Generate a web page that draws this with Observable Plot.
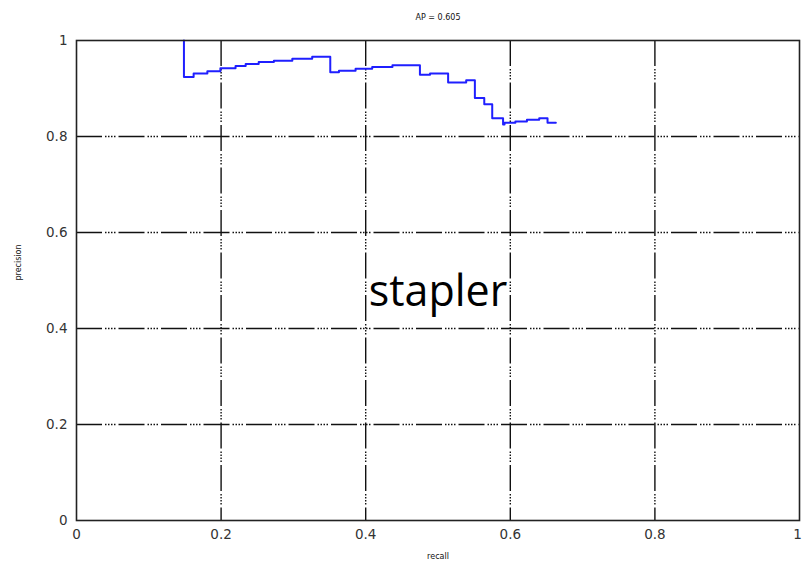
<!DOCTYPE html>
<html>
<head>
<meta charset="utf-8">
<script src="https://cdn.jsdelivr.net/npm/d3@7"></script>
<script src="https://cdn.jsdelivr.net/npm/@observablehq/plot@0.6"></script>
<style>
  html, body { margin: 0; padding: 0; background: #fff; }
  #chart { width: 802px; height: 567px; }
</style>
</head>
<body>
<div id="chart"></div>
<script>
// Precision-recall curve for "stapler" (step curve)
const recall = [0.1486, 0.1486, 0.162, 0.181, 0.199, 0.220, 0.234, 0.252, 0.273, 0.2985, 0.326,
  0.351, 0.363, 0.386, 0.409, 0.437, 0.475, 0.489, 0.514, 0.539, 0.551, 0.564, 0.575,
  0.590, 0.592, 0.607, 0.623, 0.640, 0.6515, 0.663];
const precision = [1.0, 0.924, 0.931, 0.936, 0.942, 0.947, 0.951, 0.955, 0.958, 0.962, 0.966,
  0.934, 0.937, 0.941, 0.945, 0.9486, 0.9285, 0.931, 0.9125, 0.917, 0.880, 0.867, 0.838,
  0.825, 0.8285, 0.831, 0.835, 0.838, 0.8285, 0.8285];
const xTicks = [0, 0.2, 0.4, 0.6, 0.8];
const xLastTick = [1];
const yTicks = [0, 0.2, 0.4, 0.6, 0.8, 1];
const gridTicks = [0.2, 0.4, 0.6, 0.8];
const titleText = "AP = 0.605";
const xLabel = "recall";
const yLabel = "precision";
const classLabel = "stapler";

const pts = recall.map((r, i) => ({recall: r, precision: precision[i]}));
const dash = "26,3,1.5,1.5,1.5,1.5,1.5,1.5,1.5,3";

const chart = Plot.plot({
  width: 802,
  height: 567,
  marginLeft: 76,
  marginRight: 3,
  marginTop: 40,
  marginBottom: 47,
  style: {fontFamily: "DejaVu Sans", fontSize: "13.5px", background: "#fff"},
  x: {domain: [0, 1]},
  y: {domain: [0, 1]},
  marks: [
    Plot.gridX(gridTicks, {stroke: "#111", strokeOpacity: 1, strokeWidth: 1.4, strokeDasharray: dash}),
    Plot.gridY(gridTicks, {stroke: "#111", strokeOpacity: 1, strokeWidth: 1.4, strokeDasharray: dash}),
    Plot.axisX(xTicks, {tickSize: 0, tickPadding: 9, tickFormat: d => String(d), fill: "#333", label: null}),
    Plot.axisX(xLastTick, {tickSize: 0, tickPadding: 9, tickFormat: d => String(d), fill: "#333", label: null, dx: -2}),
    Plot.axisY(yTicks, {tickSize: 0, tickPadding: 9, tickFormat: d => String(d), fill: "#333", label: null}),
    Plot.line(pts, {x: "recall", y: "precision", curve: "step-after", stroke: "#1f1fff", strokeWidth: 2}),
    Plot.frame({stroke: "#222", strokeWidth: 1.6}),
    Plot.text([titleText], {text: d => d, frameAnchor: "top", dy: -26, fontSize: 8, fill: "#111"}),
    Plot.text([xLabel], {text: d => d, frameAnchor: "bottom", dy: 38, fontSize: 8, fill: "#111"}),
    Plot.text([yLabel], {text: d => d, frameAnchor: "left", dx: -58, rotate: -90, fontSize: 8, fill: "#111"}),
    Plot.text([classLabel], {text: d => d, frameAnchor: "middle", dy: 12, fontSize: 43, fontFamily: "Open Sans", fill: "#000"})
  ]
});
document.getElementById("chart").appendChild(chart);
</script>
</body>
</html>
